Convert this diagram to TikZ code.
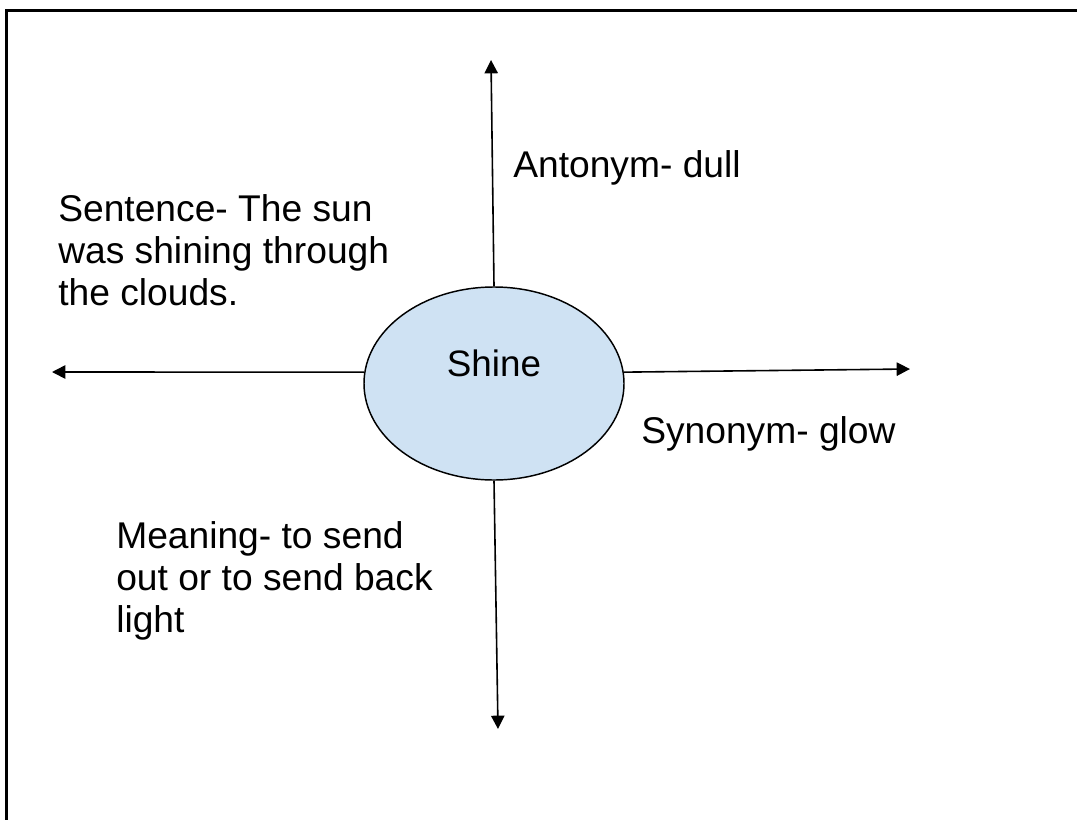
\documentclass[tikz,border=0pt]{standalone}
\usepackage{fontspec}
\setmainfont{Liberation Sans}
\usetikzlibrary{arrows.meta,shapes.geometric}
\definecolor{bubble}{RGB}{207,226,243}
\begin{document}
\begin{tikzpicture}[x=0.75pt,y=-0.75pt,
  lbl/.style={inner sep=0pt,anchor=base west,font=\fontsize{27.9pt}{31.6pt}\selectfont},
  arr/.style={line width=1.2pt,-{Triangle[length=10pt,width=10pt]}},
  frame/.style={line width=2.25pt}]
\useasboundingbox (0,0) rectangle (1077,820);
\coordinate (f1) at (6.5,821);
\coordinate (f2) at (6.5,11);
\coordinate (f3) at (1078,11);
\draw[frame] (f1) -- (f2) -- (f3);
\node[ellipse,draw,line width=1.1pt,fill=bubble,minimum width=195pt,minimum height=144.75pt,inner sep=0pt] (shine) at (494,383.5) {};
\node[inner sep=0pt,anchor=base,font=\fontsize{27.6pt}{31.6pt}\selectfont] (word) at (494,376) {Shine};
\coordinate (tu) at (491,60);
\coordinate (td) at (498,729);
\coordinate (tl) at (52,372);
\coordinate (tr) at (910,369);
\draw[arr] (shine.north) -- (tu);
\draw[arr] (shine.south) -- (td);
\draw[arr] (shine.175) -- (tl);
\draw[arr] (shine.5) -- (tr);
\node[lbl] (ant) at (513,177) {Antonym- dull};
\node[lbl] (syn) at (641,443) {Synonym- glow};
\node[lbl] (sen) at (58,221) {\begin{tabular}[t]{@{}l@{}}Sentence- The sun\\was shining through\\the clouds.\end{tabular}};
\node[lbl] (mea) at (116,548) {\begin{tabular}[t]{@{}l@{}}Meaning- to send\\out or to send back\\light\end{tabular}};
\end{tikzpicture}
\end{document}
